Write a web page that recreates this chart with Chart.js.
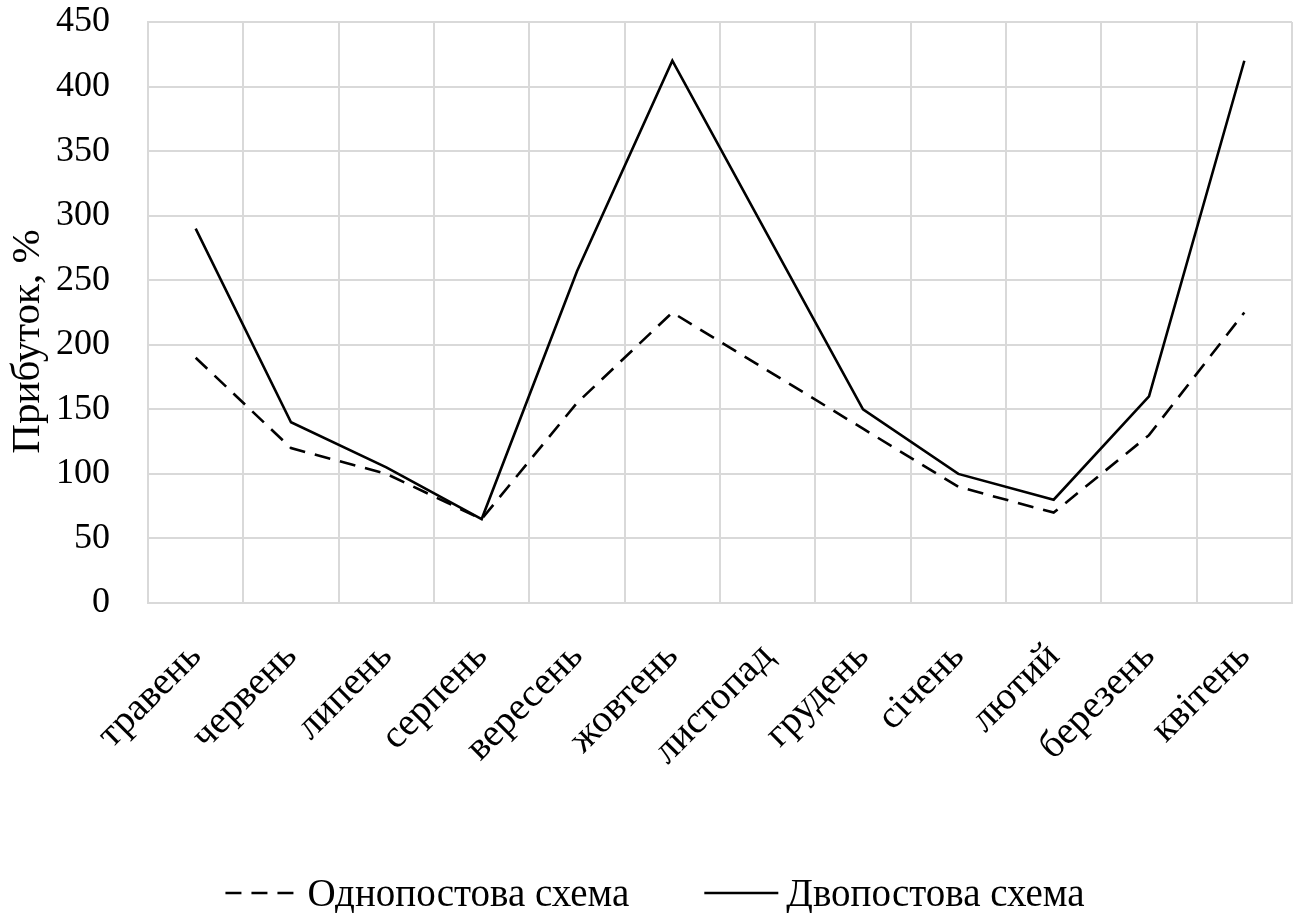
<!DOCTYPE html>
<html>
<head>
<meta charset="utf-8">
<script src="https://cdn.jsdelivr.net/npm/chart.js@4.4.1/dist/chart.umd.min.js"></script>
<style>
  html, body { margin: 0; padding: 0; background: #ffffff; }
  #wrap { width: 1298px; height: 913px; }
</style>
</head>
<body>
<div id="wrap"><canvas id="c" width="1298" height="913"></canvas></div>
<script>
// Months of the season (May to April)
const months = ['травень', 'червень', 'липень', 'серпень', 'вересень', 'жовтень',
                'листопад', 'грудень', 'січень', 'лютий', 'березень', 'квітень'];

// Profit, % — single-post scheme
const singlePost = [190, 120, 100, 65, 155, 225, 180, 135, 90, 70, 130, 225];

// Profit, % — two-post scheme
const doublePost = [290, 140, 105, 65, 257, 420, 285, 150, 100, 80, 160, 420];

// Value axis range and step
const yMin = 0;
const yMax = 450;
const yStep = 50;

const seriesNames = ['Однопостова схема', 'Двопостова схема'];
const yTitle = 'Прибуток, %';

const FONT = '"Liberation Serif", "Times New Roman", serif';
const FS = 39;
const GRID = '#d9d9d9';

// Vertical axis title, set a little below the middle of the plot
const axisTitle = {
  id: 'axisTitle',
  afterDraw(chart) {
    const ctx = chart.ctx;
    const area = chart.chartArea;
    ctx.save();
    ctx.font = '41px ' + FONT;
    ctx.fillStyle = '#000';
    ctx.textAlign = 'center';
    ctx.textBaseline = 'middle';
    ctx.translate(28, (area.top + area.bottom) / 2 + 29);
    ctx.rotate(-Math.PI / 2);
    ctx.fillText(yTitle, 0, 0);
    ctx.restore();
  }
};

// Legend drawn below the axis labels: line sample followed by the series name
const bottomLegend = {
  id: 'bottomLegend',
  afterDraw(chart) {
    const ctx = chart.ctx;
    const sets = chart.data.datasets;
    ctx.save();
    ctx.font = FS + 'px ' + FONT;
    const sample = 74, gap = 8, spacing = 75;
    const widths = sets.map(d => sample + gap + ctx.measureText(d.label).width);
    const total = widths.reduce((a, b) => a + b, 0) + spacing * (sets.length - 1);
    let x = chart.width / 2 + 6 - total / 2;
    const yLine = 893;
    sets.forEach((d, i) => {
      ctx.strokeStyle = d.borderColor;
      ctx.lineWidth = 2.6;
      ctx.setLineDash(d.borderDash || []);
      ctx.beginPath();
      ctx.moveTo(x, yLine);
      ctx.lineTo(x + sample, yLine);
      ctx.stroke();
      ctx.setLineDash([]);
      ctx.fillStyle = '#000';
      ctx.textAlign = 'left';
      ctx.textBaseline = 'alphabetic';
      ctx.fillText(d.label, x + sample + gap, 906);
      x += widths[i] + spacing;
    });
    ctx.restore();
  }
};

new Chart(document.getElementById('c'), {
  type: 'line',
  data: {
    labels: months,
    datasets: [
      {
        label: seriesNames[0],
        data: singlePost,
        borderColor: '#000',
        borderWidth: 2.6,
        borderDash: [16, 10],
        pointRadius: 0,
        tension: 0,
        fill: false
      },
      {
        label: seriesNames[1],
        data: doublePost,
        borderColor: '#000',
        borderWidth: 2.6,
        pointRadius: 0,
        tension: 0,
        fill: false
      }
    ]
  },
  options: {
    responsive: false,
    animation: false,
    devicePixelRatio: 1,
    layout: { padding: { left: 0, top: 22, right: 6, bottom: 0 } },
    plugins: {
      legend: { display: false },
      tooltip: { enabled: false }
    },
    scales: {
      x: {
        offset: true,
        grid: { offset: true, color: GRID, lineWidth: 2, drawTicks: false },
        border: { color: GRID, width: 2 },
        ticks: {
          color: '#000',
          font: { family: FONT, size: FS },
          minRotation: 45,
          maxRotation: 45,
          autoSkip: false,
          padding: 31
        },
        afterFit(scale) {
          scale.height = 913 - 603;
          scale.paddingLeft = 0;
          scale.paddingRight = 0;
        }
      },
      y: {
        min: yMin,
        max: yMax,
        grid: { color: GRID, lineWidth: 2, drawTicks: false },
        border: { color: GRID, width: 2 },
        ticks: {
          stepSize: yStep,
          color: '#000',
          font: { family: FONT, size: 36 },
          padding: 38
        },
        afterFit(scale) {
          scale.width = 148;
          scale.paddingTop = 0;
          scale.paddingBottom = 0;
        }
      }
    }
  },
  plugins: [axisTitle, bottomLegend]
});
</script>
</body>
</html>
